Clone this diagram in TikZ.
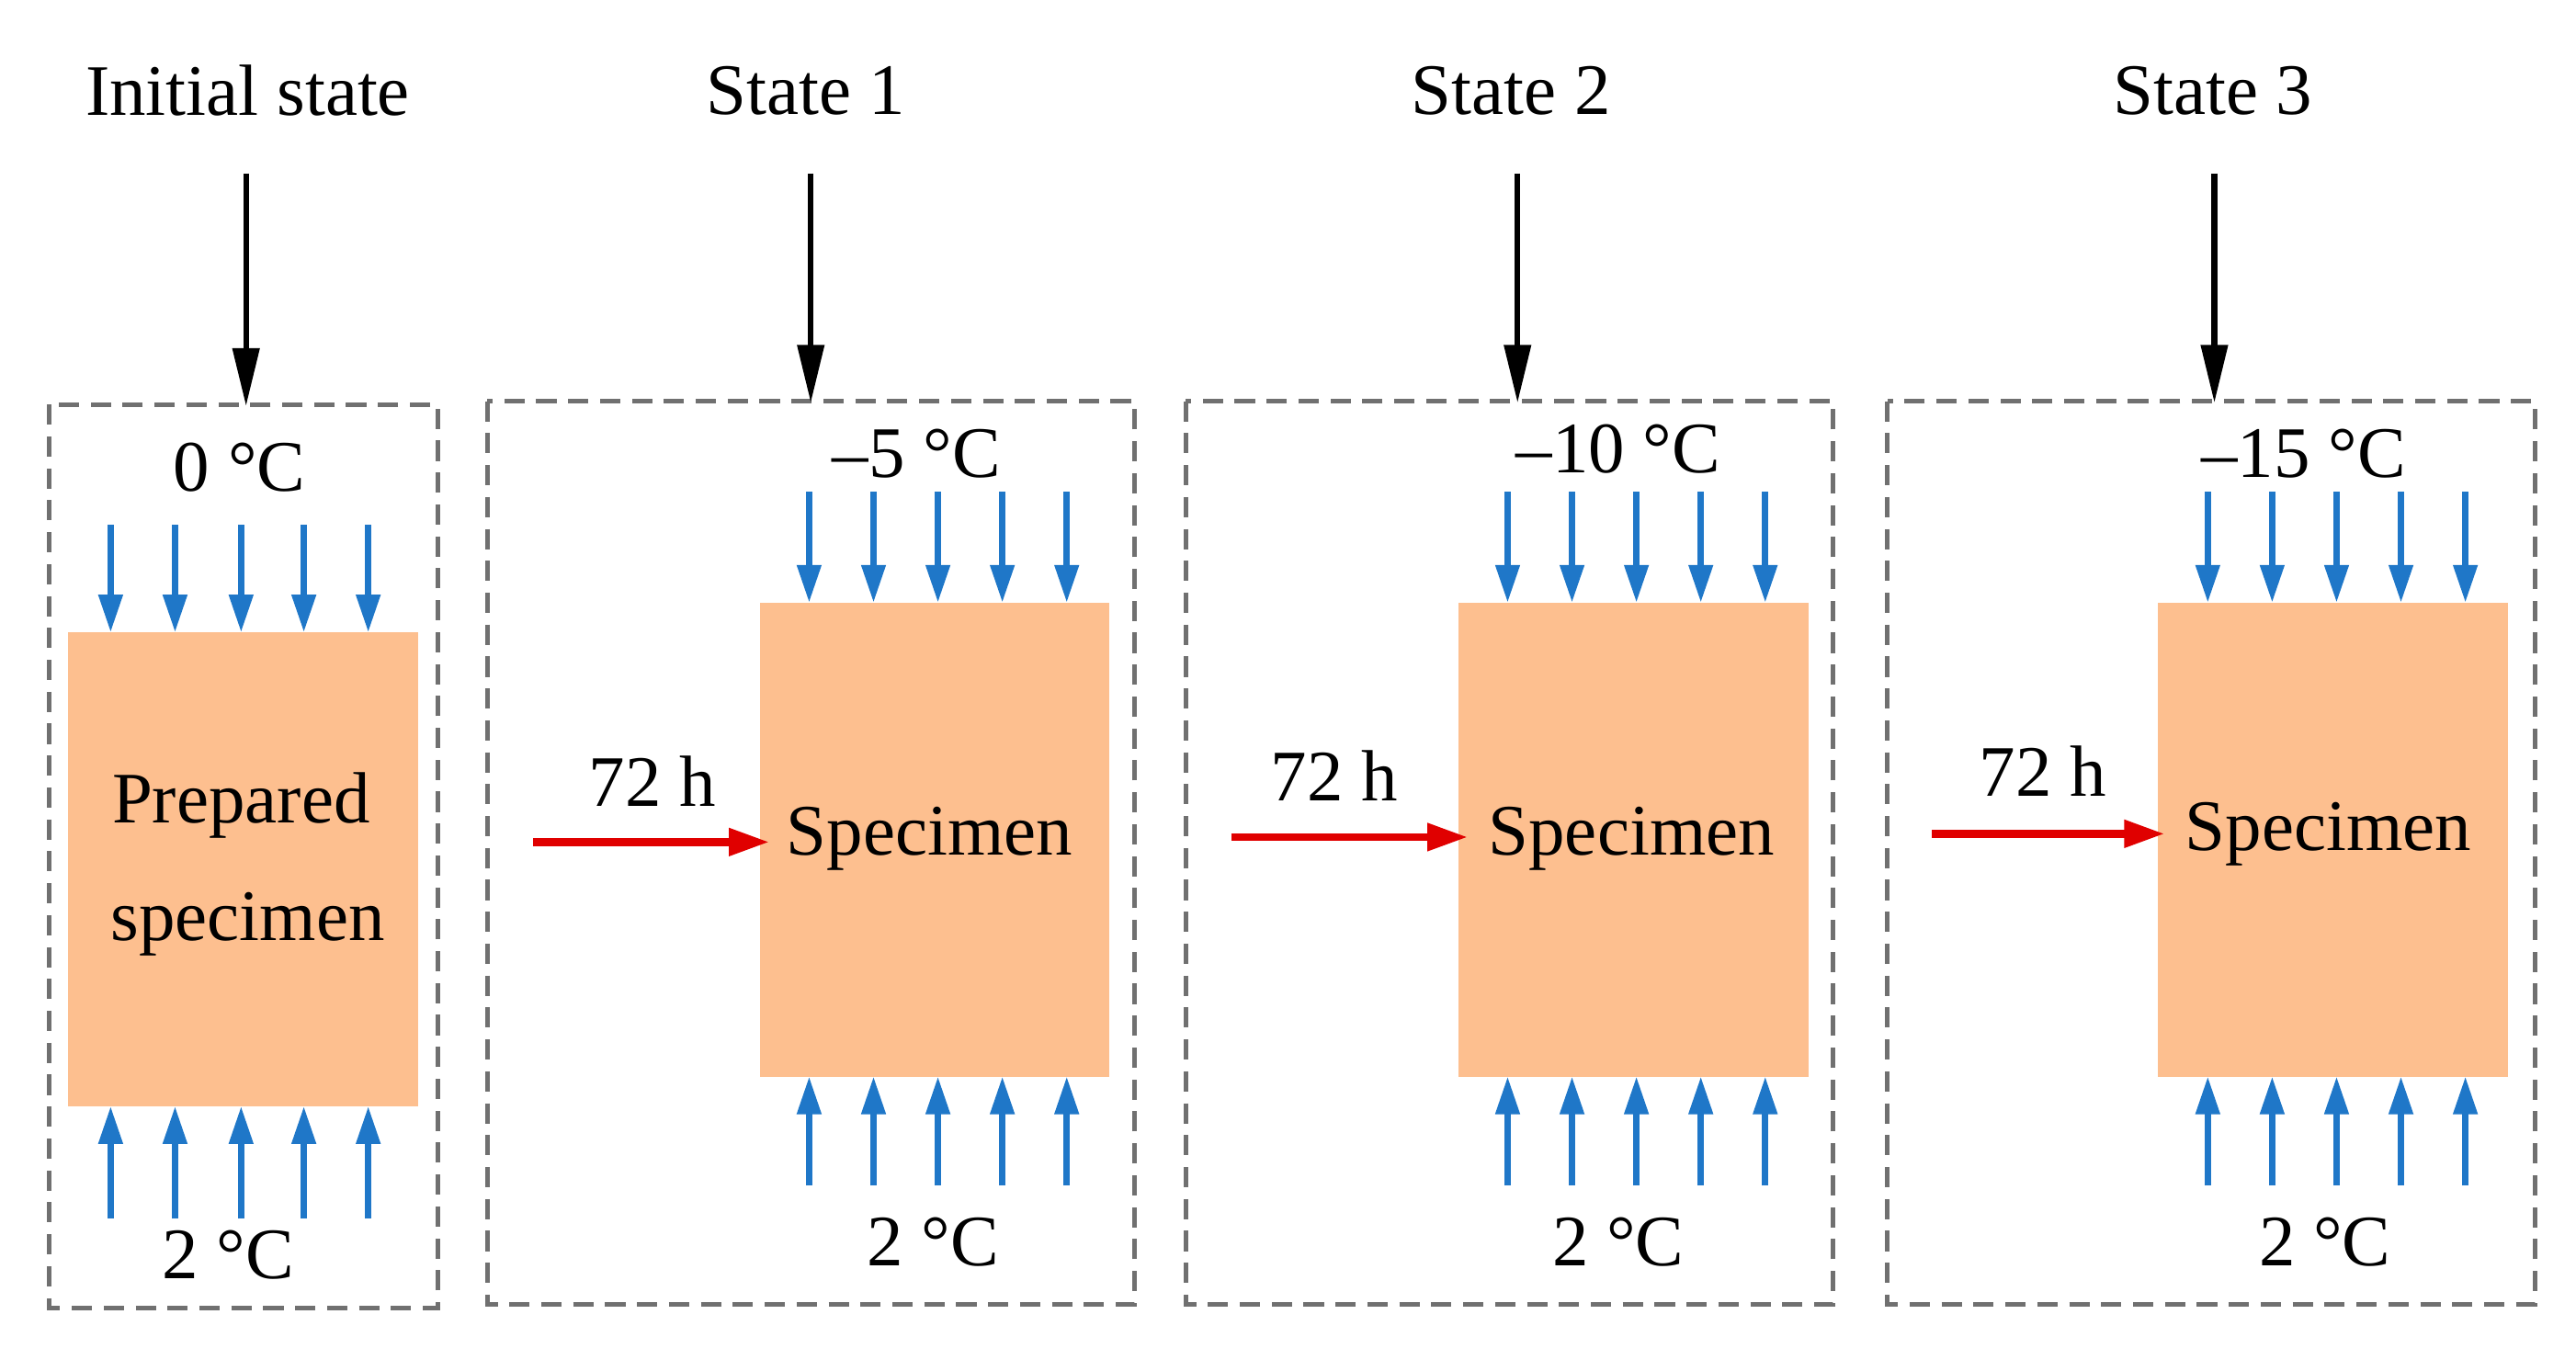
\documentclass[tikz,border=0pt]{standalone}
\usepackage{fontspec}
\setmainfont{Liberation Serif}
\usetikzlibrary{arrows.meta}
\definecolor{spec}{HTML}{FDBF8F}
\definecolor{blu}{HTML}{1F77C8}
\definecolor{redd}{HTML}{E00000}
\definecolor{dgray}{HTML}{707070}
\begin{document}
\begin{tikzpicture}[x=0.02cm,y=-0.02cm,
  box/.style={draw=dgray,line width=1.6pt,dash pattern=on 7pt off 4pt},
  sp/.style={fill=spec},
  blk/.style={line width=2pt,-{Triangle[length=20pt,width=9pt]}},
  bl/.style={draw=blu,line width=2.2pt,-{Triangle[length=13pt,width=8pt]}},
  rd/.style={draw=redd,line width=2.8pt,-{Triangle[length=14pt,width=9pt]}},
  txt/.style={font=\fontsize{25}{30}\selectfont,inner sep=0pt}]
\useasboundingbox (0,0) rectangle (1560,830);
% boxes
\draw[box] (30,245) rectangle (265,792);
\draw[box] (295,243) rectangle (687,790);
\draw[box] (718,243) rectangle (1110,790);
\draw[box] (1143,243) rectangle (1535,790);
% titles
\node[txt] (t0) at (150,55) {Initial state};
\node[txt] (t1) at (488,55) {State 1};
\node[txt] (t2) at (915,55) {State 2};
\node[txt] (t3) at (1340,55) {State 3};
\coordinate (a0) at (149,105); \coordinate (b0) at (149,246);
\coordinate (a1) at (491,105); \coordinate (b1) at (491,244);
\coordinate (a2) at (919,105); \coordinate (b2) at (919,244);
\coordinate (a3) at (1341,105); \coordinate (b3) at (1341,244);
\foreach \i in {0,...,3} \draw[blk] (a\i) -- (b\i);
% specimens
\fill[sp] (41,383) rectangle (253,670);
\fill[sp] (460,365) rectangle (672,652);
\fill[sp] (883,365) rectangle (1095,652);
\fill[sp] (1307,365) rectangle (1519,652);
% blue arrows
\foreach \x in {67,106,146,184,223} {
  \draw[bl] (\x,318) -- (\x,383);
  \draw[bl] (\x,738) -- (\x,670);}
\foreach \o in {0,423,847} {
  \foreach \x in {490,529,568,607,646} {
    \draw[bl] (\x+\o,298) -- (\x+\o,365);
    \draw[bl] (\x+\o,718) -- (\x+\o,652);}}
% temperatures
\node[txt] (c0) at (145,283) {0 °C};
\node[txt] (d0) at (138,760) {2 °C};
\node[txt] (c1) at (555,275) {–5 °C};
\node[txt] (d1) at (565,752) {2 °C};
\node[txt] (c2) at (980,272) {–10 °C};
\node[txt] (d2) at (980,752) {2 °C};
\node[txt] (c3) at (1395,275) {–15 °C};
\node[txt] (d3) at (1408,752) {2 °C};
% specimen texts
\node[txt] (p1) at (146,488) {Prepared};
\node[txt] (p2) at (150,560) {specimen};
\node[txt] (s1) at (563,508) {Specimen};
\node[txt] (s2) at (988,508) {Specimen};
\node[txt] (s3) at (1410,505) {Specimen};
% red arrows
\coordinate (r1) at (323,510); \coordinate (e1) at (466,510);
\coordinate (r2) at (746,507); \coordinate (e2) at (889,507);
\coordinate (r3) at (1170,505); \coordinate (e3) at (1311,505);
\foreach \i in {1,2,3} \draw[rd] (r\i) -- (e\i);
\node[txt] (h1) at (395,473) {72 h};
\node[txt] (h2) at (808,470) {72 h};
\node[txt] (h3) at (1237,467) {72 h};
\end{tikzpicture}
\end{document}
